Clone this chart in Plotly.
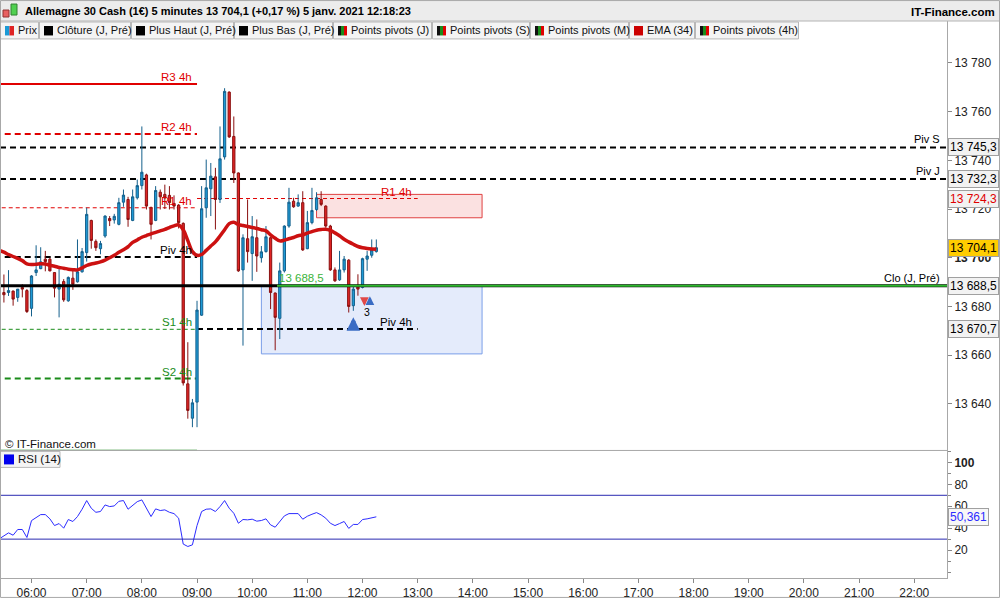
import pandas as pd
import plotly.graph_objects as go

# bougies 5 minutes, 05:30 -> 12:15
times = pd.date_range('2021-01-05 05:30', periods=82, freq='5min')
opens = [13685.7, 13685.7, 13686.3, 13683.7, 13687.8, 13686.5, 13679.2, 13693.9, 13695.5, 13699.4,
         13699.4, 13693.9, 13687.1, 13690.2, 13682.3, 13691.6, 13690.1, 13694.2, 13702.1, 13715.3,
         13706.7, 13703.7, 13708.9, 13716.1, 13715.5, 13713.7, 13722.8, 13723.9, 13715.3, 13724.6,
         13729.6, 13734.0, 13720.5, 13715.3, 13726.9, 13726.0, 13725.6, 13722.3, 13721.6, 13714.1,
         13648.2, 13634.1, 13640.7, 13676.4, 13720.5, 13728.3, 13733.2, 13723.9, 13741.4, 13768.0,
         13749.8, 13734.8, 13695.0, 13707.8, 13701.7, 13708.2, 13700.0, 13702.5, 13708.2, 13685.5,
         13675.1, 13694.6, 13713.0, 13723.2, 13721.2, 13722.6, 13703.7, 13714.4, 13719.8, 13723.9,
         13721.2, 13713.0, 13695.0, 13690.9, 13695.0, 13699.0, 13680.3, 13688.2, 13687.8, 13699.4,
         13701.0, 13702.5]
highs = [13693.1, 13694.9, 13686.5, 13687.1, 13689.1, 13687.1, 13692.8, 13705.1, 13704.3, 13702.8,
         13700.0, 13693.9, 13695.3, 13691.2, 13692.3, 13695.3, 13707.5, 13704.0, 13720.5, 13715.6,
         13707.5, 13706.9, 13717.4, 13717.1, 13718.0, 13724.6, 13728.0, 13725.0, 13728.0, 13732.1,
         13753.9, 13734.5, 13721.0, 13729.4, 13728.0, 13730.0, 13729.4, 13725.6, 13722.0, 13714.5,
         13665.3, 13642.0, 13682.3, 13729.4, 13740.3, 13738.9, 13736.9, 13753.9, 13769.6, 13768.3,
         13758.0, 13735.0, 13709.6, 13723.9, 13717.1, 13715.7, 13704.8, 13713.0, 13708.5, 13685.7,
         13698.0, 13713.3, 13728.7, 13724.6, 13726.0, 13727.3, 13719.2, 13728.7, 13726.9, 13727.3,
         13721.5, 13713.5, 13696.0, 13702.8, 13700.7, 13699.4, 13688.4, 13693.2, 13700.0, 13702.8,
         13707.5, 13707.5]
lows = [13681.6, 13684.3, 13680.3, 13681.9, 13683.7, 13677.3, 13675.9, 13692.5, 13695.3, 13694.4,
        13694.4, 13683.7, 13675.5, 13681.9, 13681.9, 13686.8, 13689.8, 13693.9, 13698.4, 13703.7,
        13702.8, 13701.4, 13708.2, 13713.0, 13714.0, 13713.3, 13720.9, 13712.7, 13715.0, 13723.9,
        13728.0, 13719.8, 13707.5, 13715.0, 13719.8, 13720.0, 13719.8, 13719.8, 13712.0, 13647.5,
        13633.9, 13630.4, 13630.4, 13676.1, 13716.4, 13717.1, 13711.6, 13722.5, 13740.3, 13749.2,
        13730.7, 13694.2, 13663.9, 13698.0, 13690.5, 13694.2, 13698.0, 13702.1, 13678.9, 13662.0,
        13666.6, 13693.9, 13712.3, 13720.5, 13720.9, 13702.8, 13703.5, 13713.7, 13719.2, 13721.2,
        13712.3, 13694.6, 13690.1, 13690.5, 13693.9, 13677.5, 13678.2, 13684.4, 13687.4, 13694.6,
        13700.0, 13702.1]
closes = [13684.8, 13686.5, 13683.0, 13687.1, 13687.1, 13677.9, 13692.5, 13695.0, 13698.3, 13698.4,
          13694.6, 13687.5, 13689.1, 13682.7, 13691.9, 13689.1, 13694.2, 13702.5, 13717.8, 13707.1,
          13704.1, 13705.8, 13717.1, 13715.2, 13717.0, 13722.6, 13725.7, 13715.7, 13725.0, 13729.6,
          13735.1, 13721.2, 13713.7, 13727.6, 13725.0, 13724.5, 13722.6, 13721.2, 13714.4, 13648.6,
          13637.3, 13640.4, 13678.5, 13720.1, 13728.7, 13733.5, 13723.9, 13740.6, 13768.3, 13749.6,
          13734.8, 13694.6, 13708.2, 13702.5, 13708.6, 13700.7, 13702.4, 13708.6, 13685.7, 13675.5,
          13694.6, 13713.0, 13722.8, 13720.9, 13722.6, 13703.2, 13714.4, 13719.4, 13724.6, 13721.9,
          13713.0, 13695.0, 13690.5, 13695.0, 13699.4, 13680.0, 13687.1, 13687.1, 13699.6, 13700.7,
          13703.2, 13704.1]

# EMA (34) et RSI (14), a partir de 05:25
ind_times = pd.date_range('2021-01-05 05:25', periods=83, freq='5min')
ema34 = [13703.0, 13702.3, 13701.3, 13700.5, 13699.7, 13698.8, 13697.5, 13697.2, 13697.3, 13697.5,
         13697.4, 13696.9, 13696.5, 13696.0, 13695.7, 13695.3, 13695.1, 13695.0, 13695.8, 13696.8,
         13697.4, 13697.8, 13698.3, 13699.0, 13700.0, 13701.0, 13702.2, 13703.3, 13704.5, 13706.3,
         13707.3, 13708.4, 13709.1, 13709.8, 13710.4, 13711.0, 13711.6, 13712.4, 13713.1, 13713.5,
         13711.5, 13707.0, 13702.5, 13701.0, 13701.3, 13703.0, 13704.8, 13706.5, 13708.9, 13711.5,
         13714.0, 13714.6, 13713.6, 13713.2, 13712.8, 13712.4, 13712.0, 13711.5, 13711.0, 13709.4,
         13708.0, 13706.9, 13707.2, 13707.8, 13708.3, 13709.0, 13709.4, 13710.1, 13710.7, 13711.3,
         13711.6, 13711.7, 13711.2, 13710.2, 13709.0, 13707.6, 13706.5, 13705.5, 13704.6, 13704.1,
         13703.8, 13703.6, 13703.5]
rsi14 = [30.3, 32.7, 35.7, 33.6, 38.8, 38.8, 31.5, 46.9, 49.7, 52.4,
         52.4, 48.5, 42.4, 44.2, 40.0, 47.9, 46.1, 50.6, 57.3, 65.2,
         58.2, 54.5, 55.2, 61.2, 59.7, 60.3, 64.5, 65.2, 57.3, 61.2,
         64.2, 65.8, 58.2, 50.6, 57.6, 56.1, 56.7, 54.5, 53.3, 49.1,
         25.5, 23.3, 24.8, 42.4, 55.2, 57.3, 57.6, 55.2, 59.7, 65.2,
         58.2, 53.6, 44.5, 47.9, 47.6, 48.2, 46.4, 47.0, 48.5, 43.0,
         40.9, 46.1, 51.2, 53.3, 53.3, 53.3, 48.2, 50.9, 52.7, 54.2,
         52.1, 49.1, 44.5, 42.4, 44.2, 46.1, 39.8, 43.4, 43.4, 47.9,
         48.5, 49.7, 50.361]

# niveaux fixes
piv_s = 13745.3
piv_j = 13732.3
clo_j = 13688.5
last_price = 13704.1

# points pivots 4h : periode precedente (jusqu'a 09:00) puis 09:00 -> 13:00
piv4h_a_names = ['R3 4h', 'R2 4h', 'R1 4h', 'Piv 4h', 'S1 4h', 'S2 4h', 'S3 4h']
piv4h_a_values = [13771.3, 13750.8, 13720.5, 13700.3, 13670.6, 13650.4, 13620.7]
piv4h_b_names = ['R1 4h', 'Piv 4h']
piv4h_b_values = [13724.3, 13670.7]

# zones
zone_r_x = ['2021-01-05 11:10', '2021-01-05 14:10']
zone_r_y = [13716.4, 13726.0]
zone_s_x = ['2021-01-05 10:10', '2021-01-05 14:10']
zone_s_y = [13660.5, 13688.5]

# signaux
sig_times = ['2021-01-05 11:50', '2021-01-05 12:02', '2021-01-05 12:08']
sig_prices = [13675.6, 13680.2, 13684.2]
sig_dirs = ['up', 'down', 'up']

D = '2021-01-05 '
RED = '#e00000'
GREEN = '#1a8c1a'
FONT = 'Liberation Sans'


def px(x):
    return x / 947.0


def py(y):
    return (580.0 - y) / 559.0


fig = go.Figure()
fig.add_trace(go.Candlestick(
    x=times, open=opens, high=highs, low=lows, close=closes,
    increasing=dict(fillcolor='#1e9ad6', line=dict(color='#15608c', width=1)),
    decreasing=dict(fillcolor='#e02424', line=dict(color='#8a1010', width=1)),
    whiskerwidth=0, showlegend=False, hoverinfo='skip', xaxis='x', yaxis='y'))
fig.add_trace(go.Scatter(x=ind_times, y=ema34, mode='lines', showlegend=False,
                         line=dict(color='#cc1111', width=3.5, shape='spline'),
                         xaxis='x', yaxis='y'))
fig.add_trace(go.Scatter(x=ind_times, y=rsi14, mode='lines', showlegend=False,
                         line=dict(color='#2b2bff', width=1), xaxis='x', yaxis='y2'))

shapes = []
ann = []

# zones
shapes.append(dict(type='rect', xref='x', yref='y', x0=zone_s_x[0], x1=zone_s_x[1],
                   y0=zone_s_y[0], y1=zone_s_y[1], fillcolor='rgba(205,218,248,0.55)',
                   line=dict(color='#7a9ee8', width=1), layer='below'))
shapes.append(dict(type='rect', xref='x', yref='y', x0=zone_r_x[0], x1=zone_r_x[1],
                   y0=zone_r_y[0], y1=zone_r_y[1], fillcolor='rgba(248,205,205,0.6)',
                   line=dict(color='#e04040', width=1), layer='below'))

# lignes pleine largeur
for lvl, name in [(piv_s, 'Piv S'), (piv_j, 'Piv J')]:
    shapes.append(dict(type='line', xref='paper', yref='y', x0=0, x1=1, y0=lvl, y1=lvl,
                       line=dict(color='black', width=2, dash='6px,4px'), layer='below'))
    ann.append(dict(xref='paper', yref='y', x=px(942), y=lvl, text=name, showarrow=False,
                    xanchor='right', yanchor='bottom', font=dict(size=11, color='black')))
shapes.append(dict(type='line', xref='paper', yref='y', x0=0, x1=1, y0=clo_j, y1=clo_j,
                   line=dict(color='black', width=3)))
shapes.append(dict(type='line', xref='x', yref='y', x0=D + '10:27', x1=D + '22:40',
                   y0=clo_j, y1=clo_j, line=dict(color='#2eb82e', width=2)))
ann.append(dict(xref='paper', yref='y', x=px(942), y=clo_j, text='Clo (J, Pré)', showarrow=False,
                xanchor='right', yanchor='bottom', font=dict(size=11, color='black')))
ann.append(dict(xref='x', yref='y', x=D + '10:27', y=clo_j, text='13 688,5', showarrow=False,
                xanchor='left', yanchor='bottom', font=dict(size=11.5, color='#3cb43c')))

# pivots 4h
a_styles = [(RED, 2, 'solid'), (RED, 2, '6px,4px'), (RED, 1, '4px,3px'), ('black', 2, '6px,4px'),
            (GREEN, 1, '4px,3px'), (GREEN, 2, '6px,4px'), (GREEN, 2, 'solid')]
for name, lvl, (col, w, dash) in zip(piv4h_a_names, piv4h_a_values, a_styles):
    shapes.append(dict(type='line', xref='x', yref='y', x0=D + '05:20', x1=D + '09:00',
                       y0=lvl, y1=lvl, line=dict(color=col, width=w, dash=dash), layer='below'))
    ann.append(dict(xref='x', yref='y', x=D + '09:00', y=lvl, text=name, showarrow=False,
                    xanchor='right', yanchor='bottom', xshift=-3, yshift=-1,
                    font=dict(size=11.5, color=col)))
b_styles = [(RED, 1, '4px,3px'), ('black', 2, '6px,4px')]
for name, lvl, (col, w, dash) in zip(piv4h_b_names, piv4h_b_values, b_styles):
    shapes.append(dict(type='line', xref='x', yref='y', x0=D + '09:00', x1=D + '13:00',
                       y0=lvl, y1=lvl, line=dict(color=col, width=w, dash=dash), layer='below'))
    ann.append(dict(xref='x', yref='y', x=D + '13:00', y=lvl, text=name, showarrow=False,
                    xanchor='right', yanchor='bottom', xshift=-4, yshift=-1,
                    font=dict(size=11.5, color=col)))

# signaux
for t, p, d in zip(sig_times, sig_prices, sig_dirs):
    big = (t == sig_times[0])
    ann.append(dict(xref='x', yref='y', x=t, y=p, text='', showarrow=True,
                    ax=0, ay=(13 if big else 9) * (1 if d == 'up' else -1),
                    arrowhead=2, arrowsize=0.6 if big else 0.7, arrowwidth=4.5 if big else 2.5,
                    arrowcolor='#3a6cc4' if d == 'up' else '#e04848'))
ann.append(dict(xref='x', yref='y', x=D + '12:05', y=13677.7, text='3', showarrow=False,
                font=dict(size=10.5, color='black')))

# RSI 70 / 30
for lvl in [70, 30]:
    shapes.append(dict(type='line', xref='paper', yref='y2', x0=0, x1=1, y0=lvl, y1=lvl,
                       line=dict(color='#2a2ab0', width=1)))

# etiquettes a droite
boxes = [(piv_s, '13 745,3', 'black', '#f2f2f2'),
         (piv_j, '13 732,3', 'black', '#f2f2f2'),
         (piv4h_b_values[0], '13 724,3', RED, '#f2f2f2'),
         (last_price, '13 704,1', 'black', '#ffcc00'),
         (clo_j, '13 688,5', 'black', '#f2f2f2'),
         (piv4h_b_values[1], '13 670,7', 'black', '#f2f2f2')]
for lvl, txt, col, bg in boxes:
    ann.append(dict(xref='paper', yref='y', x=1, y=lvl, text=txt, showarrow=False,
                    xanchor='left', yanchor='middle', xshift=1, font=dict(size=12, color=col),
                    bgcolor=bg, bordercolor='#a0a0a0', borderwidth=1, borderpad=1))
ann.append(dict(xref='paper', yref='y2', x=1, y=rsi14[-1], text='50,361', showarrow=False,
                xanchor='left', yanchor='middle', xshift=1, font=dict(size=12, color='#2b2bff'),
                bgcolor='#f7f7f7', bordercolor='#a0a0a0', borderwidth=1, borderpad=1))

# separation des panneaux
shapes.append(dict(type='line', xref='paper', yref='paper', x0=0, x1=1, y0=py(452), y1=py(452),
                   line=dict(color='#a8a8a8', width=1)))

# bandeau titre
shapes.append(dict(type='rect', xref='paper', yref='paper', x0=px(0), x1=px(1000),
                   y0=py(21), y1=py(0), fillcolor='#ececec', line=dict(width=0), layer='below'))
shapes.append(dict(type='line', xref='paper', yref='paper', x0=px(0), x1=px(1000),
                   y0=py(21), y1=py(21), line=dict(color='#b4b4b4', width=1)))
shapes.append(dict(type='rect', xref='paper', yref='paper', x0=px(3), x1=px(9),
                   y0=py(17), y1=py(10), fillcolor='#e86060', line=dict(color='#903030', width=1)))
shapes.append(dict(type='rect', xref='paper', yref='paper', x0=px(11), x1=px(17),
                   y0=py(15), y1=py(4), fillcolor='#50d050', line=dict(color='#308030', width=1)))
ann.append(dict(xref='paper', yref='paper', x=px(23), y=py(11), xanchor='left', yanchor='middle',
                showarrow=False,
                text='<b>Allemagne 30 Cash (1€) 5 minutes 13 704,1 (+0,17 %) 5 janv. 2021 12:18:23</b>',
                font=dict(size=11, color='black')))
ann.append(dict(xref='paper', yref='paper', x=px(997), y=py(12), xanchor='right', yanchor='middle',
                showarrow=False, text='<b>IT-Finance.com</b>', font=dict(size=11.5, color='black')))

# ligne des indicateurs
leg_names = ['Prix', 'Clôture (J, Pré)', 'Plus Haut (J, Pré)', 'Plus Bas (J, Pré)',
             'Points pivots (J)', 'Points pivots (S)', 'Points pivots (M)', 'EMA (34)',
             'Points pivots (4h)']
leg_x = [0, 39, 131, 234, 333, 432, 530, 629, 695, 799]
leg_icons = [['#1a9ad6', '#e02424'], ['black'], ['black'], ['black'],
             ['#111111', '#1a8c1a', '#e00000'], ['#111111', '#1a8c1a', '#e00000'],
             ['#111111', '#1a8c1a', '#e00000'], ['#cc0000'], ['#111111', '#1a8c1a', '#e00000']]
for i, name in enumerate(leg_names):
    x0, x1 = leg_x[i], leg_x[i + 1]
    shapes.append(dict(type='rect', xref='paper', yref='paper', x0=px(x0 + 0.5), x1=px(x1 - 0.5),
                       y0=py(39), y1=py(22), fillcolor='#f4f4f4', line=dict(color='#b8b8b8', width=1)))
    cols = leg_icons[i]
    w = 9.0 / len(cols)
    for k, c in enumerate(cols):
        shapes.append(dict(type='rect', xref='paper', yref='paper', x0=px(x0 + 5 + k * w),
                           x1=px(x0 + 5 + (k + 1) * w), y0=py(35.5), y1=py(26),
                           fillcolor=c, line=dict(width=0)))
    ann.append(dict(xref='paper', yref='paper', x=px(x0 + 16), y=py(30.5), xanchor='left',
                    yanchor='middle', showarrow=False, text=name,
                    font=dict(size=11, color='#111111')))

# RSI legende et copyright
shapes.append(dict(type='rect', xref='paper', yref='paper', x0=px(0.5), x1=px(60),
                   y0=py(469), y1=py(453), fillcolor='#f4f4f4', line=dict(color='#b8b8b8', width=1)))
shapes.append(dict(type='rect', xref='paper', yref='paper', x0=px(4), x1=px(14),
                   y0=py(466), y1=py(456), fillcolor='#0000ee', line=dict(width=0)))
ann.append(dict(xref='paper', yref='paper', x=px(16), y=py(461), xanchor='left', yanchor='middle',
                showarrow=False, text='RSI (14)', font=dict(size=11.5, color='#111111')))
ann.append(dict(xref='paper', yref='paper', x=px(3), y=py(446), xanchor='left', yanchor='middle',
                showarrow=False, text='© IT-Finance.com', font=dict(size=11.5, color='#111111')))

# cadre
shapes.append(dict(type='rect', xref='paper', yref='paper', x0=px(0.5), x1=px(999.5),
                   y0=py(599.5), y1=py(0.5), line=dict(color='#a8a8a8', width=1)))

price_ticks = [13640, 13660, 13680, 13700, 13720, 13740, 13760, 13780]
price_labels = ['13 640', '13 660', '13 680', '<b>13 700</b>', '13 720', '13 740', '13 760', '13 780']

fig.update_layout(
    width=1000, height=600,
    margin=dict(l=0, r=53, t=21, b=20),
    paper_bgcolor='white', plot_bgcolor='white',
    font=dict(family=FONT, size=12, color='#222222'),
    showlegend=False,
    shapes=shapes, annotations=ann,
    xaxis=dict(type='date', anchor='y2', range=[D + '05:25:44', D + '22:35:38'],
               rangeslider=dict(visible=False), tickformat='%H:%M', dtick=3600000,
               tick0=D + '06:00', ticks='outside', ticklen=4, tickcolor='#888888',
               showgrid=False, showline=True, linecolor='#a8a8a8', zeroline=False,
               tickfont=dict(size=12, color='#222222')),
    yaxis=dict(domain=[py(452), 1], anchor='x', side='right', range=[13620.85, 13797.2],
               tickvals=price_ticks, ticktext=price_labels, ticks='outside', ticklen=4,
               tickcolor='#888888', showgrid=False, showline=True, linecolor='#a8a8a8',
               zeroline=False, tickfont=dict(size=12, color='#222222')),
    yaxis2=dict(domain=[0, py(452)], anchor='x', side='right', range=[-5.45, 110.9],
                tickvals=[20, 40, 60, 80, 100], ticktext=['20', '40', '60', '80', '<b>100</b>'],
                ticks='outside', ticklen=4, tickcolor='#888888',
                minor=dict(ticks='outside', ticklen=3, dtick=10, tick0=0, tickcolor='#888888'),
                showgrid=False, showline=True, linecolor='#a8a8a8', zeroline=False,
                tickfont=dict(size=12, color='#222222')),
)

fig.write_html('out.html', config={'displayModeBar': False},
               post_script="document.body.style.margin='0px';")
